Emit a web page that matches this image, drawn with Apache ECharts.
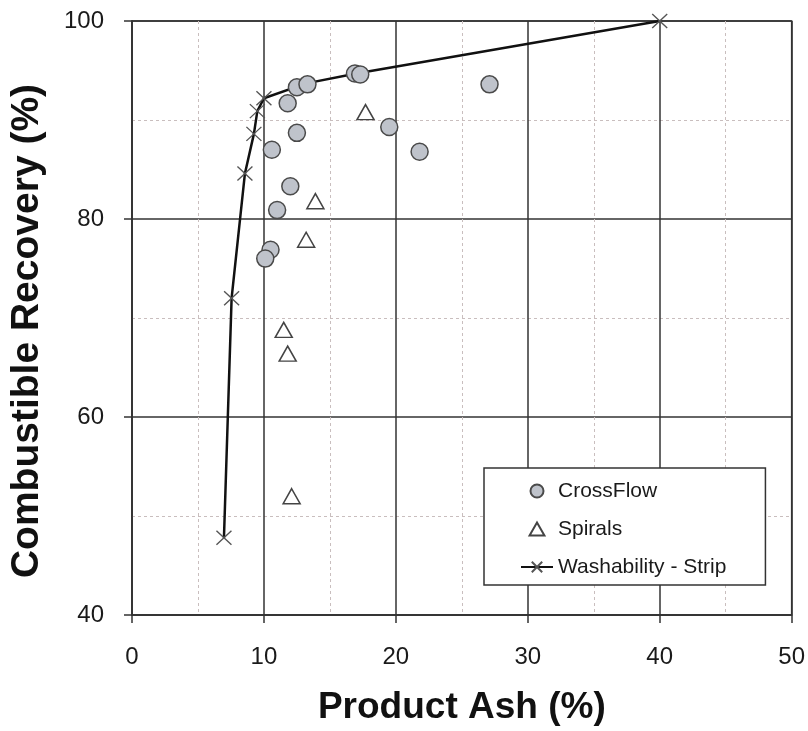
<!DOCTYPE html>
<html>
<head>
<meta charset="utf-8">
<script src="https://cdn.jsdelivr.net/npm/echarts@6/dist/echarts.min.js"></script>
<style>
html,body{margin:0;padding:0;background:#fff;}
#chart{width:808px;height:731px;}
</style>
</head>
<body>
<div id="chart"></div>
<script>
// ---- data ----
const crossFlowAsh = [12.5, 13.3, 11.8, 16.9, 17.3, 27.1, 19.5, 12.5, 10.6, 21.8, 12.0, 11.0, 10.5, 10.1];
const crossFlowRec = [93.3, 93.6, 91.7, 94.7, 94.6, 93.6, 89.3, 88.7, 87.0, 86.8, 83.3, 80.9, 76.9, 76.0];

const spiralsAsh = [17.7, 13.9, 13.2, 11.5, 11.8, 12.1];
const spiralsRec = [90.8, 81.8, 77.9, 68.8, 66.4, 52.0];

const washAsh = [6.97, 7.55, 8.56, 9.24, 9.5, 10.0, 13.2, 17.0, 40.0];
const washRec = [47.8, 72.0, 84.6, 88.6, 90.9, 92.2, 93.7, 94.7, 100.0];
const washMarked = [true, true, true, true, true, true, false, false, true];

const xTicks = [0, 10, 20, 30, 40, 50];
const yTicks = [40, 60, 80, 100];

const seriesNames = ['CrossFlow', 'Spirals', 'Washability - Strip'];
const xTitle = 'Product Ash (%)';
const yTitle = 'Combustible Recovery (%)';

// ---- chart ----
const chart = echarts.init(document.getElementById('chart'), null, {renderer: 'canvas'});
const FONT = 'Liberation Sans, Arial, sans-serif';
const crossPath = 'path://M0,0L10,10M10,0L0,10';
const triPath = 'path://M0,14L8,0L16,14Z';

const axisCommon = {
  axisLine: {show: true, lineStyle: {color: '#333', width: 1.5}},
  axisTick: {show: true, inside: false, length: 8, lineStyle: {color: '#333', width: 1.5}},
  splitLine: {show: true, lineStyle: {color: '#333', width: 1.5}},
  minorTick: {show: false, splitNumber: 2},
  minorSplitLine: {show: true, lineStyle: {color: '#c9bebe', width: 1, type: [3, 3]}},
  axisLabel: {color: '#1a1a1a', fontSize: 24, fontFamily: FONT}
};

chart.setOption({
  animation: false,
  backgroundColor: '#fff',
  grid: {left: 132, right: 16, top: 21, bottom: 115, show: true, borderColor: '#333', borderWidth: 1.5, containLabel: false},
  xAxis: Object.assign({}, axisCommon, {
    type: 'value', min: xTicks[0], max: xTicks[xTicks.length - 1], interval: 10,
    name: xTitle, nameLocation: 'middle', nameGap: 74,
    nameTextStyle: {color: '#111', fontSize: 37, fontWeight: 'bold', fontFamily: FONT},
    axisLabel: Object.assign({}, axisCommon.axisLabel, {margin: 30})
  }),
  yAxis: Object.assign({}, axisCommon, {
    type: 'value', min: yTicks[0], max: yTicks[yTicks.length - 1], interval: 20,
    name: yTitle, nameLocation: 'middle', nameGap: 85,
    nameTextStyle: {color: '#111', fontSize: 39, fontWeight: 'bold', fontFamily: FONT, padding: [0, 26, 0, 0]},
    axisLabel: Object.assign({}, axisCommon.axisLabel, {margin: 28})
  }),
  legend: {
    data: [
      {name: seriesNames[0]},
      {name: seriesNames[1], icon: triPath},
      {name: seriesNames[2]}
    ],
    orient: 'vertical',
    left: 484, top: 468,
    backgroundColor: '#fff',
    borderColor: '#333', borderWidth: 1.5, borderRadius: 0,
    padding: [11, 39, 6, 36],
    itemGap: 14,
    itemWidth: 32, itemHeight: 13, itemTextGap: 4,
    symbolKeepAspect: true,
    textStyle: {color: '#1a1a1a', fontSize: 21, fontFamily: FONT, lineHeight: 24}
  },
  series: [
    {
      name: seriesNames[2],
      type: 'line',
      z: 2,
      data: washAsh.map((x, i) => washMarked[i] ? [x, washRec[i]] : {value: [x, washRec[i]], symbol: 'none'}),
      symbol: crossPath,
      symbolSize: [15, 14],
      showSymbol: true,
      lineStyle: {color: '#111', width: 2.5},
      itemStyle: {color: 'rgba(0,0,0,0)', borderColor: '#555', borderWidth: 1.3}
    },
    {
      name: seriesNames[0],
      type: 'scatter',
      z: 3,
      data: crossFlowAsh.map((x, i) => [x, crossFlowRec[i]]),
      symbol: 'circle',
      symbolSize: 17,
      itemStyle: {color: '#bfc3cb', borderColor: '#4a4a4a', borderWidth: 1.5, opacity: 1}
    },
    {
      name: seriesNames[1],
      type: 'scatter',
      z: 3,
      data: spiralsAsh.map((x, i) => [x, spiralsRec[i]]),
      symbol: 'triangle',
      symbolSize: [17, 15],
      itemStyle: {color: '#fff', borderColor: '#444', borderWidth: 1.5, opacity: 1}
    }
  ]
});
</script>
</body>
</html>
